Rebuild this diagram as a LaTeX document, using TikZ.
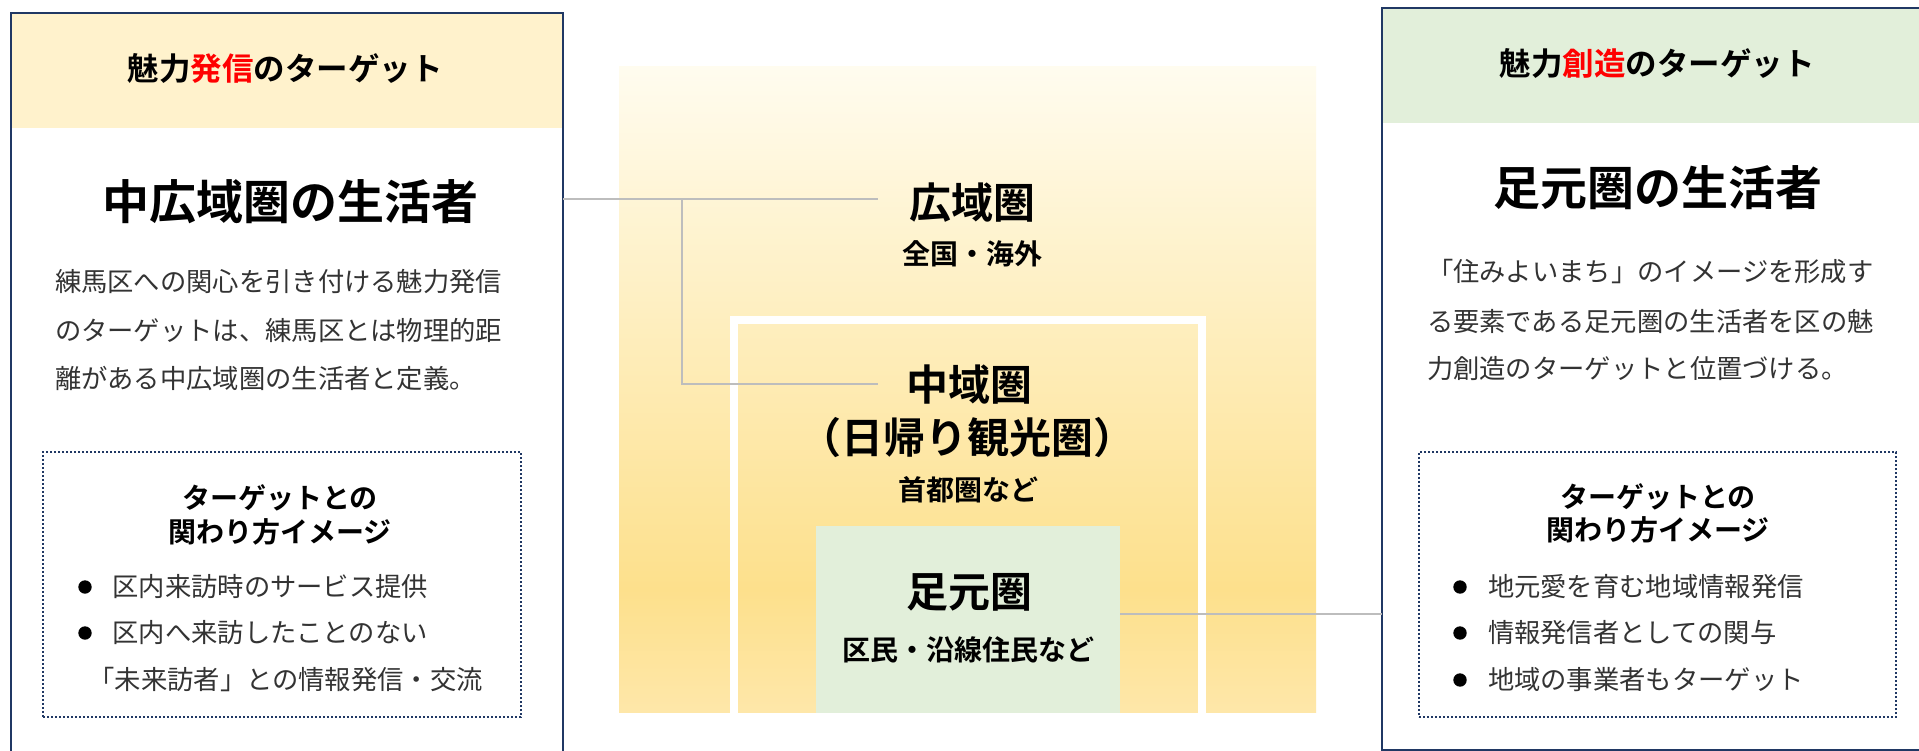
\documentclass[tikz,border=0pt]{standalone}
\usepackage{fontspec}
\setmainfont{Noto Sans CJK JP}[BoldFont={Noto Sans CJK JP Bold}]
\definecolor{navy}{HTML}{203864}
\definecolor{hdrY}{HTML}{FFF2CC}
\definecolor{hdrG}{HTML}{E2EFDA}
\definecolor{zoneG}{HTML}{E2EFDA}
\definecolor{connC}{HTML}{BDBDBD}
\definecolor{bodyT}{HTML}{333333}
\definecolor{redT}{HTML}{FF0000}
\definecolor{gTop}{HTML}{FFFCEF}
\definecolor{gPeak}{HTML}{FDE08C}
\definecolor{gBot}{HTML}{FEE7A9}
\pgfdeclareverticalshading{zonegrad}{100bp}{color(0bp)=(gBot); color(25bp)=(gBot); color(34.5bp)=(gPeak); color(75bp)=(gTop); color(100bp)=(gTop)}
\begin{document}
\begin{tikzpicture}[x=1pt,y=-1pt,
  every node/.style={inner sep=0pt, outer sep=0pt},
  framebox/.style={draw=navy, line width=2.4pt, anchor=north west},
  dotbox/.style={draw=navy, line width=2pt, dash pattern=on 2.4pt off 1.6pt, anchor=north west},
  hdrtext/.style={font=\fontsize{31.5}{36}\selectfont\bfseries},
  titletext/.style={font=\fontsize{47}{54}\selectfont\bfseries},
  bodytext/.style={font=\fontsize{26.3}{30}\selectfont, text=bodyT, anchor=west},
  dottitle/.style={font=\fontsize{28}{32}\selectfont\bfseries},
  bulletdot/.style={circle, fill=black, minimum size=13.4pt},
  zonebig/.style={font=\fontsize{42}{48}\selectfont\bfseries},
  zonesmall/.style={font=\fontsize{28}{32}\selectfont\bfseries},
  conn/.style={draw=connC, line width=2.2pt}
]
\path[use as bounding box] (0,0) rectangle (1919,751);
\clip (0,0) rectangle (1919,751);
\fill[white] (0,0) rectangle (1919,751);

% ---------- centre zones ----------
\node[shading=zonegrad, minimum width=697pt, minimum height=645pt, anchor=north west] (outer) at (619,67) {};
\node[minimum width=468pt, minimum height=393pt, anchor=north west] (mid) at (734,320) {};
\draw[white, line width=8.5pt] (mid.south west) -- (mid.north west) -- (mid.north east) -- (mid.south east);
\node[fill=zoneG, minimum width=304pt, minimum height=187pt, anchor=north west] (foot) at (816,526) {};

\node[zonebig] (kouiki) at (972,203) {広域圏};
\node[zonesmall] (kouikisub) at (972,254) {全国・海外};
\node[zonebig] (chuiki) at (969,385) {中域圏};
\node[zonebig] (higaeri) at (967,438) {（日帰り観光圏）};
\node[zonesmall] (chuikisub) at (968,490) {首都圏など};
\node[zonebig] (ashimoto) at (969,592) {足元圏};
\node[zonesmall] (ashimotosub) at (968,650) {区民・沿線住民など};

% ---------- left panel ----------
\fill[hdrY] (11,13) rectangle (563,128);
\node[framebox, minimum width=552pt, minimum height=800pt] (lbox) at (11,13) {};
\node[hdrtext] (lhdr) at (285,69) {魅力{\color{redT}発信}のターゲット};
\node[titletext] (ltitle) at (290,202) {中広域圏の生活者};
\node[bodytext] (lb1) at (55,282) {練馬区への関心を引き付ける魅力発信};
\node[bodytext] (lb2) at (55,330) {のターゲットは、練馬区とは物理的距};
\node[bodytext] (lb3) at (55,378) {離がある中広域圏の生活者と定義。};
\node[dotbox, minimum width=478pt, minimum height=265pt] (ldot) at (43,452) {};
\node[dottitle] (ldt1) at (280,498) {ターゲットとの};
\node[dottitle] (ldt2) at (280,532) {関わり方イメージ};
\node[bulletdot] (lbul1) at (85,587) {};
\node[bulletdot] (lbul2) at (85,633) {};
\node[bodytext] (li1) at (112.5,587) {区内来訪時のサービス提供};
\node[bodytext] (li2) at (112.5,633) {区内へ来訪したことのない};
\node[bodytext] (li3) at (88.5,680) {「未来訪者」との情報発信・交流};

% ---------- right panel ----------
\fill[hdrG] (1382,8) rectangle (1930,123);
\node[framebox, minimum width=560pt, minimum height=742pt] (rbox) at (1382,8) {};
\node[hdrtext] (rhdr) at (1657,64) {魅力{\color{redT}創造}のターゲット};
\node[titletext] (rtitle) at (1658,188) {足元圏の生活者};
\node[bodytext] (rb1) at (1427,272) {「住みよいまち」のイメージを形成す};
\node[bodytext] (rb2) at (1427,321) {る要素である足元圏の生活者を区の魅};
\node[bodytext] (rb3) at (1427,369) {力創造のターゲットと位置づける。};
\node[dotbox, minimum width=477pt, minimum height=265pt] (rdot) at (1419,452) {};
\node[dottitle] (rdt1) at (1658,497) {ターゲットとの};
\node[dottitle] (rdt2) at (1658,530) {関わり方イメージ};
\node[bulletdot] (rbul1) at (1460,587) {};
\node[bulletdot] (rbul2) at (1460,633) {};
\node[bulletdot] (rbul3) at (1460,680) {};
\node[bodytext] (ri1) at (1488,587) {地元愛を育む地域情報発信};
\node[bodytext] (ri2) at (1488,633) {情報発信者としての関与};
\node[bodytext] (ri3) at (1488,680) {地域の事業者もターゲット};

% ---------- connectors ----------
\coordinate (kEnd) at (878,199);
\coordinate (cEnd) at (878,384);
\coordinate (jn) at (682,199);
\coordinate (rj) at (1250,614);
\draw[conn] (lbox.east |- kEnd) -- (kEnd);
\draw[conn] (jn) |- (cEnd);
\draw[conn] (foot.east |- rj) -- (rbox.west |- rj);
\end{tikzpicture}
\end{document}
